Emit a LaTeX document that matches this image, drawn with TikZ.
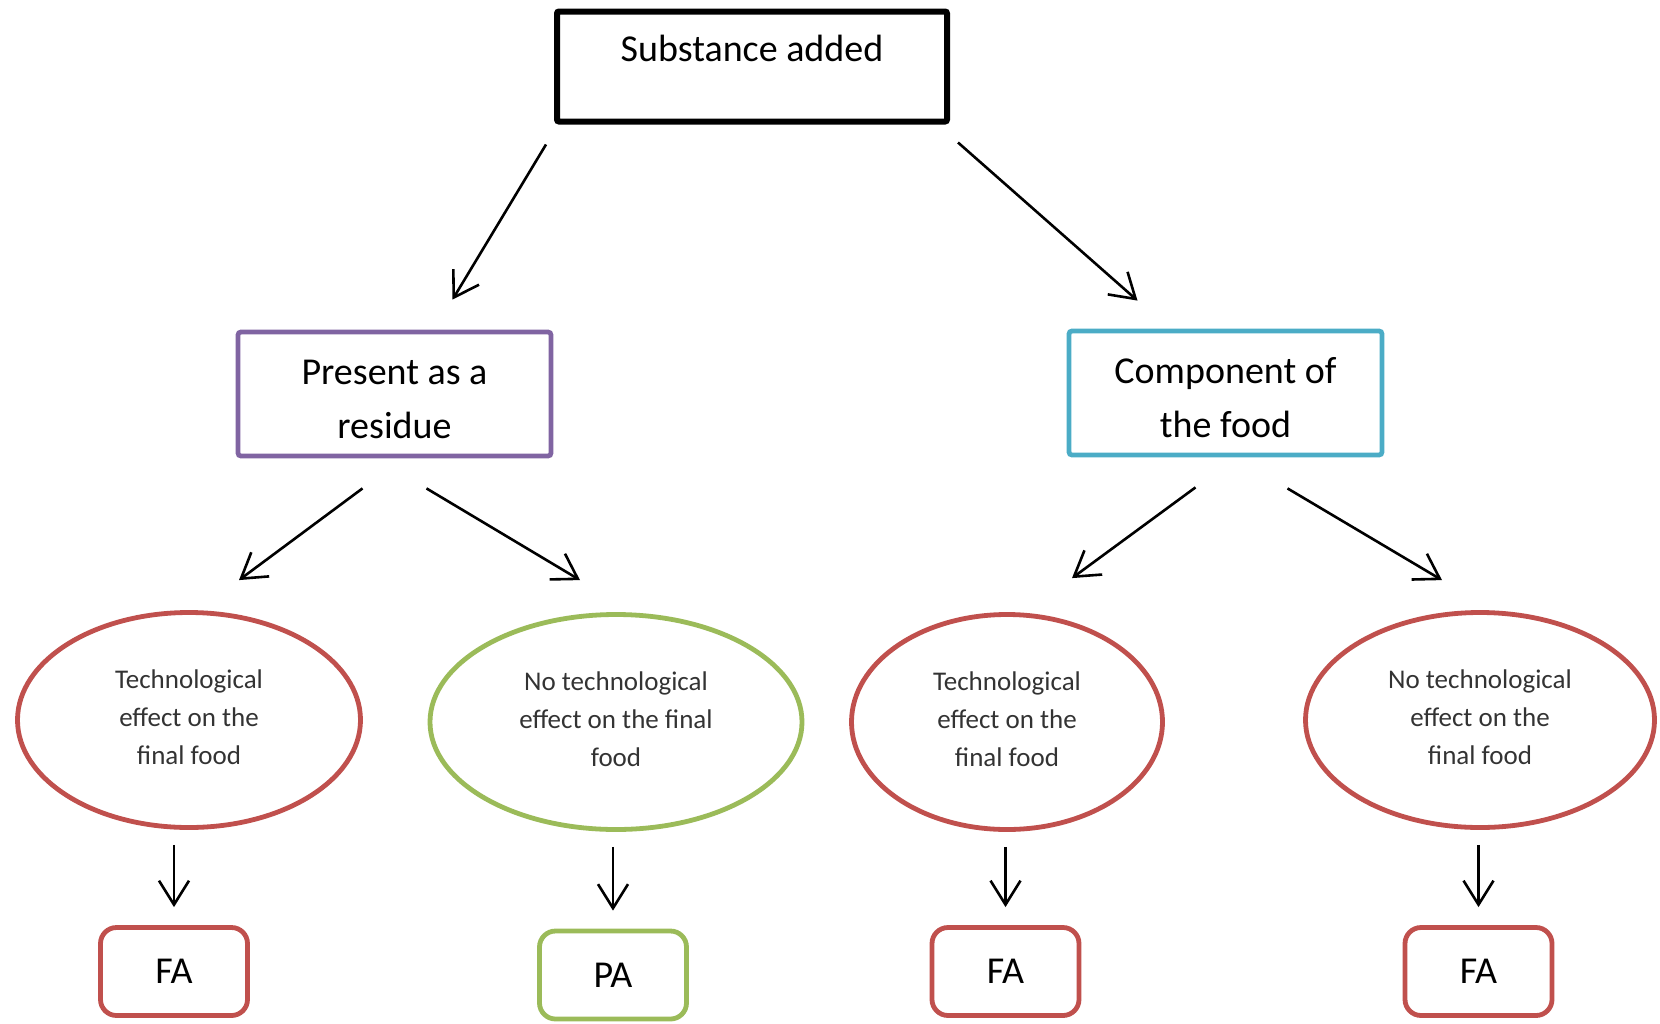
\documentclass[tikz,border=0pt]{standalone}
\usepackage{fontspec}
\setmainfont{Carlito}
\usetikzlibrary{arrows.meta, positioning, calc, shapes.geometric}
\definecolor{residuepurple}{HTML}{8064A2}
\definecolor{componentblue}{HTML}{4BACC6}
\definecolor{fared}{HTML}{C0504D}
\definecolor{pagreen}{HTML}{9BBB59}

\begin{document}
\begin{tikzpicture}[
    x=0.5pt, y=-0.5pt,
    every node/.style={font=\fontsize{19}{27}\selectfont},
    block/.style={
        rectangle,
        rounded corners=1.5pt,
        line width=2.4pt,
        minimum width=156.5pt,
        minimum height=62pt,
        align=center,
        inner sep=0pt,
        text height=44pt,
        text depth=0pt
    },
    effect/.style={
        ellipse,
        line width=2.4pt,
        minimum height=107.5pt,
        align=center,
        inner sep=0pt,
        text height=44.8pt,
        text depth=0pt,
        text=black!80,
        font=\fontsize{13.5}{19}\selectfont
    },
    verdict/.style={
        rectangle,
        rounded corners=8pt,
        line width=2.4pt,
        minimum width=73.5pt,
        minimum height=44pt,
        inner sep=0pt
    },
    arrow/.style={
        -{Straight Barb[length=12pt, width=15pt]},
        line width=1.3pt,
        draw=black
    }
]
\useasboundingbox (0,0) rectangle (1660,1023);
\node[block, draw=black, line width=3pt, rounded corners=1pt, minimum width=195pt, minimum height=55pt,
      text height=13pt, text depth=17.6pt] (added) at (752,66.5) {Substance added};
\node[block, draw=residuepurple] (residue) at (394.5,394) {Present as a\\residue};
\node[block, draw=componentblue] (component) at (1225.5,393) {Component of\\the food};
\node[effect, draw=fared, minimum width=171.5pt] (tech1) at (189,720) {Technological\\effect on the\\final food};
\node[effect, draw=pagreen, minimum width=186pt] (notech1) at (616,722) {No technological\\effect on the final\\food};
\node[effect, draw=fared, minimum width=155.5pt] (tech2) at (1007,722) {Technological\\effect on the\\final food};
\node[effect, draw=fared, minimum width=174.5pt] (notech2) at (1480,720) {No technological\\effect on the\\final food};
\node[verdict, draw=fared] (fa1) at (174,971.5) {FA};
\node[verdict, draw=pagreen] (pa) at (613,975) {PA};
\node[verdict, draw=fared] (fa2) at (1005.5,971.5) {FA};
\node[verdict, draw=fared] (fa3) at (1478.5,971.5) {FA};
\draw[arrow] ([xshift=-4pt, yshift=-10pt]added.south west) -- ([xshift=29pt, yshift=15pt]residue.north);
\draw[arrow] ([xshift=4pt, yshift=-9pt]added.south east) -- ([xshift=-44pt, yshift=14pt]component.north);
\draw[arrow] ([xshift=-16pt, yshift=-15pt]residue.south) -- ([xshift=25pt, yshift=15pt]tech1.north);
\draw[arrow] ([xshift=16pt, yshift=-15pt]residue.south) -- ([xshift=-18pt, yshift=16pt]notech1.north);
\draw[arrow] ([xshift=-15pt, yshift=-15pt]component.south) -- ([xshift=32.5pt, yshift=17pt]tech2.north);
\draw[arrow] ([xshift=31pt, yshift=-15.5pt]component.south) -- ([xshift=-19pt, yshift=15pt]notech2.north);
\draw[arrow] ([yshift=-7.5pt]tech1.south -| fa1.north) -- ([yshift=9pt]fa1.north);
\draw[arrow] ([yshift=-7.5pt]notech1.south -| pa.north) -- ([yshift=9pt]pa.north);
\draw[arrow] ([yshift=-7.5pt]tech2.south -| fa2.north) -- ([yshift=9pt]fa2.north);
\draw[arrow] ([yshift=-7.5pt]notech2.south -| fa3.north) -- ([yshift=9pt]fa3.north);
\end{tikzpicture}
\end{document}
